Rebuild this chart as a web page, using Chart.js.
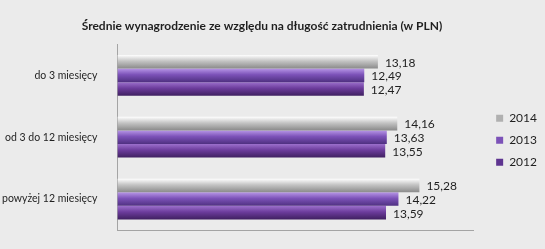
<!DOCTYPE html>
<html lang="pl">
<head>
    <meta charset="UTF-8">
    <title>Średnie wynagrodzenie</title>
    <script src="https://cdn.jsdelivr.net/npm/chart.js"></script>
    <style>
        body {
            margin: 0;
            padding: 0;
            background-color: #ebebeb;
        }
        canvas {
            display: block;
            background-color: #ebebeb;
        }
    </style>
</head>
<body>
<canvas id="wageChart" width="545" height="249"></canvas>
<script>
    const categories = ['do 3 miesięcy', 'od 3 do 12 miesięcy', 'powyżej 12 miesięcy'];
    const years = ['2014', '2013', '2012'];
    const values2014 = [13.18, 14.16, 15.28];
    const values2013 = [12.49, 13.63, 14.22];
    const values2012 = [12.47, 13.55, 13.59];

    // kolory: [góra, środek, dół]
    const shades = [
        ['#ffffff', '#c4c4c4', '#8a8a8a'],
        ['#b796e6', '#7c52b8', '#4f3080'],
        ['#9c70cc', '#6c3c9c', '#3f2060']
    ];

    // gradient na każdym słupku (wygląd 3D)
    const barShading = {
        id: 'barShading',
        beforeDatasetsDraw(chart) {
            const ctx = chart.ctx;
            chart.data.datasets.forEach((ds, di) => {
                const meta = chart.getDatasetMeta(di);
                const s = shades[di];
                meta.data.forEach(bar => {
                    const top = bar.y - bar.height / 2;
                    const g = ctx.createLinearGradient(0, top, 0, top + bar.height);
                    g.addColorStop(0, s[0]);
                    g.addColorStop(0.45, s[1]);
                    g.addColorStop(1, s[2]);
                    bar.options = Object.assign({}, bar.options, { backgroundColor: g });
                });
            });
        }
    };

    // etykiety z wartościami za słupkami
    const valueLabels = {
        id: 'valueLabels',
        afterDatasetsDraw(chart) {
            const ctx = chart.ctx;
            ctx.save();
            ctx.font = '12px Lato, "Open Sans", sans-serif';
            ctx.fillStyle = '#1f1f1f';
            ctx.textBaseline = 'middle';
            ctx.textAlign = 'left';
            chart.data.datasets.forEach((ds, di) => {
                chart.getDatasetMeta(di).data.forEach((bar, i) => {
                    ctx.fillText(ds.data[i].toFixed(2).replace('.', ','), bar.x + 7, bar.y + 1);
                });
            });
            ctx.restore();
        }
    };

    // legenda trochę dalej od wykresu
    const legendShift = {
        id: 'legendShift',
        afterLayout(chart) {
            chart.legend.left += 13;
            chart.legend.right += 13;
            chart.legend.top += 3;
            chart.legend.bottom += 3;
        }
    };

    const ctx = document.getElementById('wageChart').getContext('2d');
    new Chart(ctx, {
        type: 'bar',
        data: {
            labels: categories,
            datasets: [
                { label: years[0], data: values2014, backgroundColor: '#b0b0b0', borderWidth: 0 },
                { label: years[1], data: values2013, backgroundColor: '#7c52b8', borderWidth: 0 },
                { label: years[2], data: values2012, backgroundColor: '#5e3490', borderWidth: 0 }
            ]
        },
        options: {
            indexAxis: 'y',
            responsive: false,
            animation: false,
            categoryPercentage: 0.66,
            barPercentage: 1,
            layout: {
                padding: { left: -10, right: 11, top: 0, bottom: 11 }
            },
            scales: {
                x: {
                    min: 0,
                    max: 18,
                    ticks: { display: false },
                    grid: { display: false },
                    border: { display: true, color: '#a4a4a4', width: 1 }
                },
                y: {
                    ticks: {
                        color: '#1f1f1f',
                        padding: 12,
                        font: { family: 'Lato, "Open Sans", sans-serif', size: 10.5 }
                    },
                    grid: { display: false },
                    border: { display: true, color: '#a4a4a4', width: 1 }
                }
            },
            plugins: {
                title: {
                    display: true,
                    text: 'Średnie wynagrodzenie ze względu na długość zatrudnienia (w PLN)',
                    color: '#1f1f1f',
                    font: { family: 'Lato, "Open Sans", sans-serif', size: 12, weight: 'bold' },
                    padding: { top: 19, bottom: 11 }
                },
                legend: {
                    position: 'right',
                    align: 'center',
                    fullSize: false,
                    labels: {
                        boxWidth: 7,
                        boxHeight: 7,
                        padding: 10,
                        color: '#1f1f1f',
                        font: { family: 'Lato, "Open Sans", sans-serif', size: 12 }
                    }
                },
                tooltip: { enabled: false }
            }
        },
        plugins: [barShading, valueLabels, legendShift]
    });
</script>
</body>
</html>
